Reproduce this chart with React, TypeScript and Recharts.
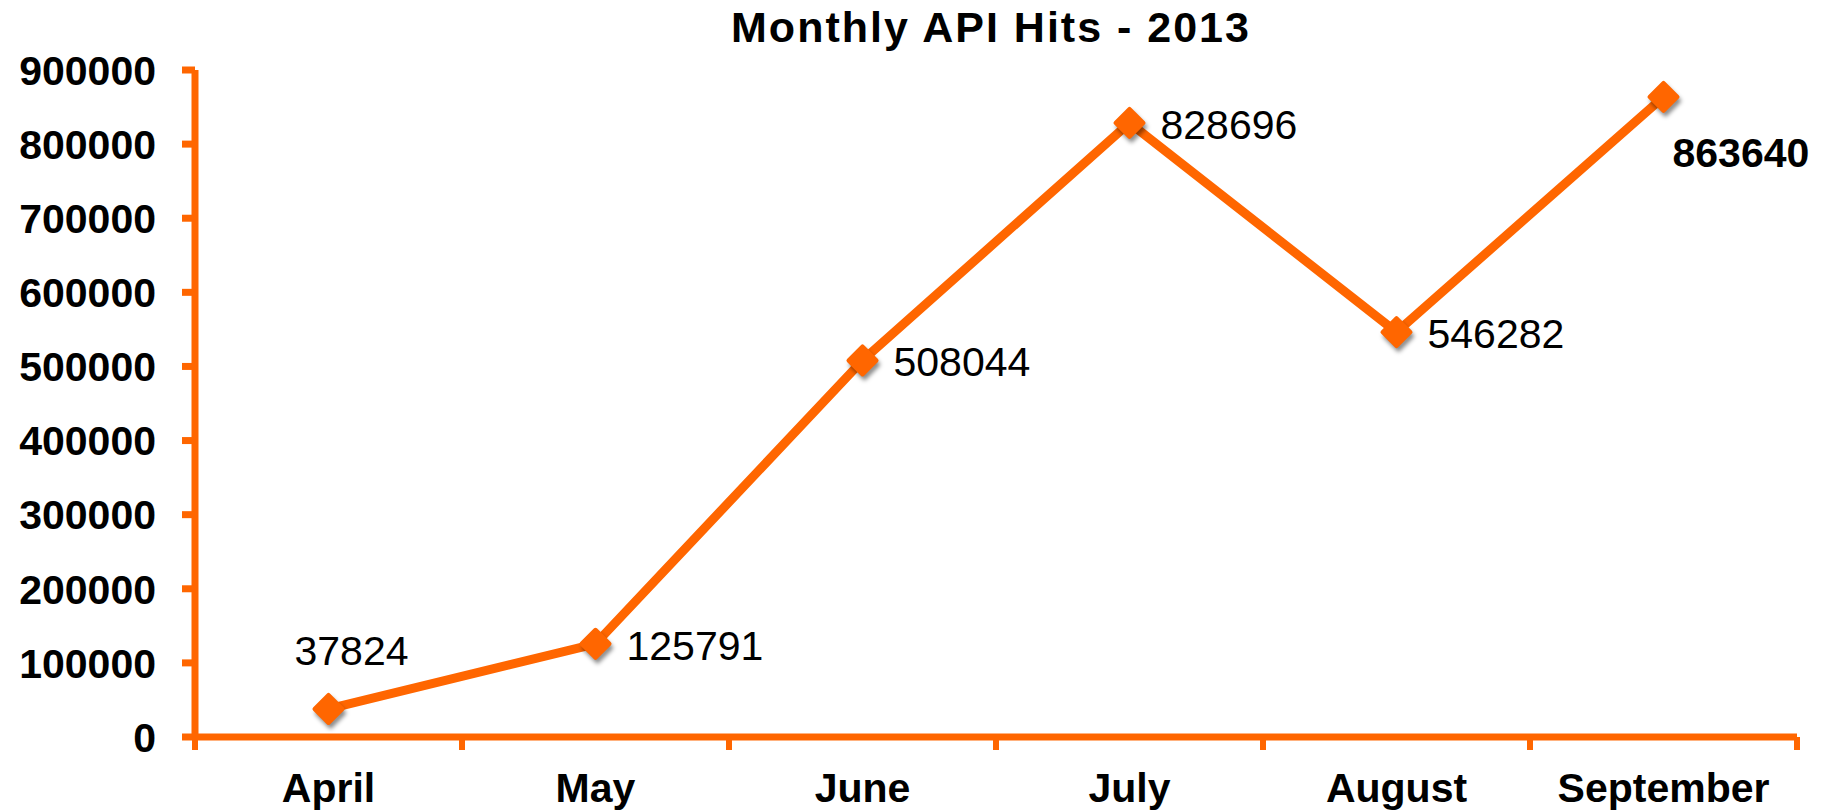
import React from 'react';
import { LineChart, Line, XAxis, YAxis, LabelList } from 'recharts';

const months = ['April', 'May', 'June', 'July', 'August', 'September'];
const hits = [37824, 125791, 508044, 828696, 546282, 863640];
const yTicks = [0, 100000, 200000, 300000, 400000, 500000, 600000, 700000, 800000, 900000];
const title = 'Monthly API Hits - 2013';

const ORANGE = '#FF6600';
const FONT = '"Liberation Sans", Arial, Helvetica, sans-serif';

const data = months.map((m, i) => ({ x: i + 0.5, month: m, hits: hits[i] }));
const xTicks: number[] = [];
for (let i = 0; i <= months.length * 2; i++) xTicks.push(i / 2);

const YTick = (props: any) => {
  const { x, y, payload } = props;
  return (
    <g>
      <line x1={x - 13} y1={y} x2={x} y2={y} stroke={ORANGE} strokeWidth={7} />
      <text x={x - 39} y={y} dy="0.36em" textAnchor="end" fontFamily={FONT} fontWeight="bold" fontSize={41} fill="#000">
        {payload.value}
      </text>
    </g>
  );
};

const XTick = (props: any) => {
  const { x, y, payload } = props;
  const v = payload.value as number;
  if (Math.abs(v - Math.round(v)) < 1e-6) {
    return <line x1={x} y1={y} x2={x} y2={y + 13} stroke={ORANGE} strokeWidth={6} />;
  }
  const idx = Math.floor(v);
  return (
    <text x={x} y={y + 65} textAnchor="middle" fontFamily={FONT} fontWeight="bold" fontSize={41} fill="#000">
      {months[idx]}
    </text>
  );
};

const Diamond = (props: any) => {
  const { cx, cy, index } = props;
  if (cx == null || cy == null) return null;
  const r = 14;
  const d = (ox: number, oy: number) =>
    `M${cx + ox},${cy + oy - r} L${cx + ox + r},${cy + oy} L${cx + ox},${cy + oy + r} L${cx + ox - r},${cy + oy} Z`;
  return (
    <g key={`dot-${index}`}>
      {index === 0 && (
        <defs>
          <filter id="dshadow" x="-50%" y="-50%" width="200%" height="200%">
            <feGaussianBlur stdDeviation="2" />
          </filter>
        </defs>
      )}
      <path d={d(2, 4)} fill="rgba(0,0,0,0.35)" stroke="rgba(0,0,0,0.35)" strokeWidth={4} strokeLinejoin="round" filter="url(#dshadow)" />
      <path d={d(0, 0)} fill={ORANGE} stroke={ORANGE} strokeWidth={4} strokeLinejoin="round" />
    </g>
  );
};

const renderLabel = (props: any) => {
  const { x, y, value, index } = props;
  if (index === 0) {
    return (
      <text x={x + 23} y={y - 59} dy="0.36em" textAnchor="middle" fontFamily={FONT} fontSize={41} fill="#000">
        {value}
      </text>
    );
  }
  if (index === months.length - 1) {
    return (
      <text x={x + 9} y={y + 55} dy="0.36em" textAnchor="start" fontFamily={FONT} fontWeight="bold" fontSize={41} fill="#000">
        {value}
      </text>
    );
  }
  return (
    <text x={x + 31} y={y + 1} dy="0.36em" textAnchor="start" fontFamily={FONT} fontSize={41} fill="#000">
      {value}
    </text>
  );
};

export default function App() {
  return (
    <div style={{ position: 'absolute', left: 0, top: 0, width: 1829, height: 811, background: '#fff', overflow: 'hidden' }}>
      <div
        style={{
          position: 'absolute',
          left: 591,
          top: 6,
          width: 800,
          textAlign: 'center',
          fontFamily: FONT,
          fontWeight: 'bold',
          fontSize: 43,
          lineHeight: '43px',
          letterSpacing: '2px',
          color: '#000',
        }}
      >
        {title}
      </div>
      <LineChart width={1829} height={811} data={data} margin={{ top: 70, right: 32, bottom: 0, left: 0 }}>
        <XAxis
          type="number"
          dataKey="x"
          domain={[0, months.length]}
          ticks={xTicks}
          interval={0}
          height={74}
          tickSize={0}
          tickMargin={0}
          tickLine={false}
          axisLine={{ stroke: ORANGE, strokeWidth: 7 }}
          tick={XTick}
          allowDecimals
        />
        <YAxis
          type="number"
          domain={[0, 900000]}
          ticks={yTicks}
          interval={0}
          width={195}
          tickSize={0}
          tickMargin={0}
          tickLine={false}
          axisLine={{ stroke: ORANGE, strokeWidth: 7 }}
          tick={YTick}
        />
        <Line
          type="linear"
          dataKey="hits"
          stroke={ORANGE}
          strokeWidth={9}
          strokeLinejoin="round"
          dot={Diamond}
          activeDot={false}
          isAnimationActive={false}
        >
          <LabelList dataKey="hits" content={renderLabel} />
        </Line>
      </LineChart>
    </div>
  );
}
